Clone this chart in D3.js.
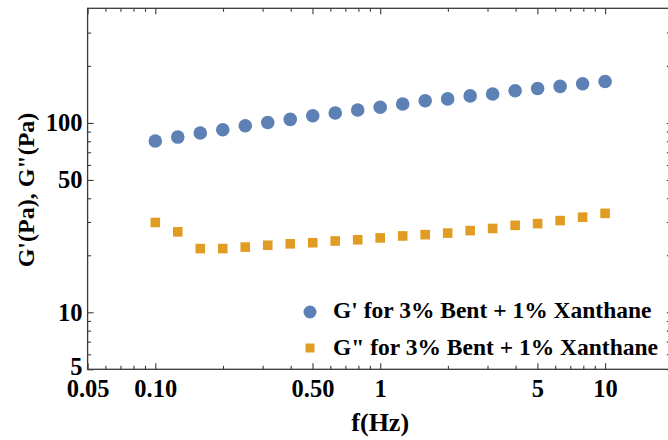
<!DOCTYPE html>
<html>
<head>
<meta charset="utf-8">
<script src="https://cdn.jsdelivr.net/npm/d3@7"></script>
<style>
  body { margin: 0; background: white; }
  svg { display: block; }
  text { font-family: "Liberation Serif", "Times New Roman", serif; font-weight: bold; fill: black; }
</style>
</head>
<body>
<div id="chart"></div>
<script>

// frequency in Hz
const freq = [0.1, 0.1259, 0.1585, 0.1995, 0.2512, 0.3162, 0.3981, 0.5012, 0.631, 0.7943,
    1, 1.259, 1.585, 1.995, 2.512, 3.162, 3.981, 5.012, 6.31, 7.943, 10]

// storage modulus G' (Pa)
const gPrime = [80.3, 84.2, 88.4, 92.1, 96.6, 100.6, 104.4, 109.2, 112.8, 117.1,
    121, 125.8, 131, 133.9, 138.9, 142.1, 148, 151.9, 155.9, 161.1, 165.5]

// loss modulus G" (Pa)
const gDoublePrime = [29.8, 26.6, 21.7, 21.7, 22.1, 22.6, 23.0, 23.3, 23.8, 24.15,
    24.7, 25.3, 25.7, 26.2, 27.0, 27.7, 28.8, 29.4, 30.5, 31.8, 33.3]

const seriesNames = ["G' for 3% Bent + 1% Xanthane", "G\" for 3% Bent + 1% Xanthane"]

const xMajorTicks = [0.05, 0.1, 0.5, 1, 5, 10]
const xTickLabels = ["0.05", "0.10", "0.50", "1", "5", "10"]
const xMinorTicks = [0.06, 0.07, 0.08, 0.09, 0.2, 0.3, 0.4, 0.6, 0.7, 0.8, 0.9, 2, 3, 4, 6, 7, 8, 9]

const yMajorTicks = [5, 10, 50, 100]
const yTickLabels = ["5", "10", "50", "100"]
const yMinorTicks = [6, 7, 8, 9, 20, 30, 40, 60, 70, 80, 90, 200, 300]

const blue = "#5e81b5"
const orange = "#e19c24"
const axisColor = "#3a3a3a"

const width = 668
const height = 440
const plotLeft = 87.6
const plotRight = 672.8   // frame runs past the picture's right edge
const plotTop = 8.3
const plotBottom = 369.3

const svg = d3.select("#chart").append("svg")
    .attr("width", width)
    .attr("height", height)

const x = d3.scaleLog().domain([0.05, 20]).range([plotLeft, plotRight])
const y = d3.scaleLog().domain([5, 403]).range([plotBottom, plotTop])

// frame
svg.append("rect")
    .attr("x", plotLeft)
    .attr("y", plotTop)
    .attr("width", plotRight - plotLeft)
    .attr("height", plotBottom - plotTop)
    .style("fill", "none")
    .style("stroke", axisColor)
    .style("stroke-width", 1.3)

function styleAxis(g) {
    g.select(".domain").remove()
    g.selectAll(".tick line").style("stroke", axisColor).style("stroke-width", 1.1)
}

// bottom axis, major ticks with labels
svg.append("g")
    .attr("transform", "translate(0," + plotBottom + ")")
    .call(d3.axisBottom(x).tickValues(xMajorTicks)
        .tickFormat((d, i) => xTickLabels[i])
        .tickSizeInner(-6).tickSizeOuter(0))
    .call(styleAxis)
    .call(g => g.selectAll(".tick text")
        .attr("y", 28)
        .attr("dy", 0)
        .style("font-size", "24.5px"))
    .attr("font-family", null)

svg.append("g")
    .attr("transform", "translate(0," + plotBottom + ")")
    .call(d3.axisBottom(x).tickValues(xMinorTicks).tickFormat("")
        .tickSizeInner(-3.5).tickSizeOuter(0))
    .call(styleAxis)

// top axis, unlabeled
svg.append("g")
    .attr("transform", "translate(0," + plotTop + ")")
    .call(d3.axisTop(x).tickValues(xMajorTicks).tickFormat("")
        .tickSizeInner(-6).tickSizeOuter(0))
    .call(styleAxis)

svg.append("g")
    .attr("transform", "translate(0," + plotTop + ")")
    .call(d3.axisTop(x).tickValues(xMinorTicks).tickFormat("")
        .tickSizeInner(-3.5).tickSizeOuter(0))
    .call(styleAxis)

// left axis
svg.append("g")
    .attr("transform", "translate(" + plotLeft + ",0)")
    .call(d3.axisLeft(y).tickValues(yMajorTicks)
        .tickFormat((d, i) => yTickLabels[i])
        .tickSizeInner(-6).tickSizeOuter(0))
    .call(styleAxis)
    .call(g => g.selectAll(".tick text")
        .attr("x", -5)
        .attr("dy", "0.32em")
        .style("font-size", "24.5px"))
    .call(g => g.selectAll(".tick text").filter(d => d === 5)
        .attr("dy", "0.22em"))
    .attr("font-family", null)

svg.append("g")
    .attr("transform", "translate(" + plotLeft + ",0)")
    .call(d3.axisLeft(y).tickValues(yMinorTicks).tickFormat("")
        .tickSizeInner(-3.5).tickSizeOuter(0))
    .call(styleAxis)

// right axis, unlabeled
svg.append("g")
    .attr("transform", "translate(" + plotRight + ",0)")
    .call(d3.axisRight(y).tickValues(yMajorTicks).tickFormat("")
        .tickSizeInner(-6).tickSizeOuter(0))
    .call(styleAxis)

svg.append("g")
    .attr("transform", "translate(" + plotRight + ",0)")
    .call(d3.axisRight(y).tickValues(yMinorTicks).tickFormat("")
        .tickSizeInner(-6).tickSizeOuter(0))
    .call(styleAxis)

// axis titles
svg.append("text")
    .attr("x", x(1))
    .attr("y", 431)
    .attr("text-anchor", "middle")
    .style("font-size", "26px")
    .text("f(Hz)")

svg.append("text")
    .attr("transform", "translate(34,190) rotate(-90)")
    .attr("text-anchor", "middle")
    .style("font-size", "24px")
    .text("G'(Pa), G\"(Pa)")

// G' points
svg.append("g").selectAll("circle")
    .data(freq)
    .enter().append("circle")
    .attr("cx", d => x(d))
    .attr("cy", (d, i) => y(gPrime[i]))
    .attr("r", 6.8)
    .style("fill", blue)

// G" points
const sq = 9.6
svg.append("g").selectAll("rect")
    .data(freq)
    .enter().append("rect")
    .attr("x", d => x(d) - sq / 2)
    .attr("y", (d, i) => y(gDoublePrime[i]) - sq / 2)
    .attr("width", sq)
    .attr("height", sq)
    .style("fill", orange)

// legend
const legend = svg.append("g")

legend.append("circle")
    .attr("cx", 310)
    .attr("cy", 312)
    .attr("r", 6.5)
    .style("fill", blue)

legend.append("rect")
    .attr("x", 310 - 4.5)
    .attr("y", 348 - 4.5)
    .attr("width", 9)
    .attr("height", 9)
    .style("fill", orange)

legend.selectAll("text")
    .data(seriesNames)
    .enter().append("text")
    .attr("x", 333)
    .attr("y", (d, i) => 318 + i * 37)
    .style("font-size", "23.5px")
    .text(d => d)

</script>
</body>
</html>
